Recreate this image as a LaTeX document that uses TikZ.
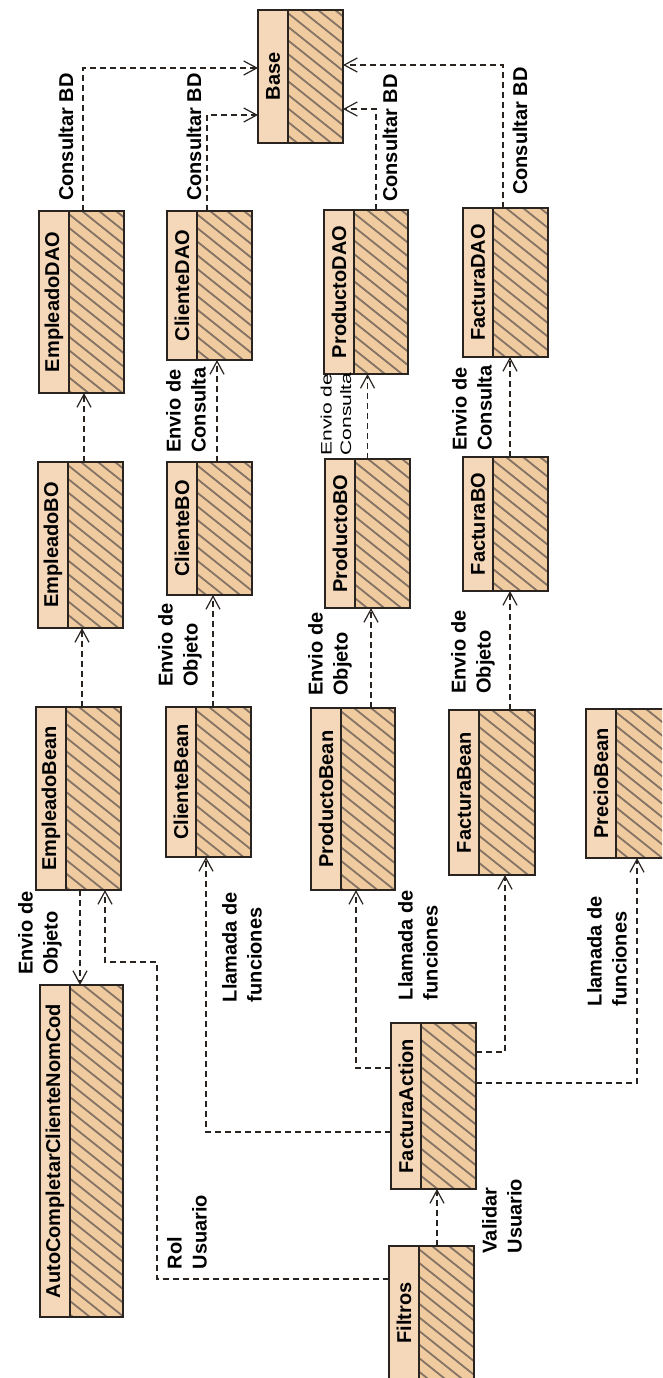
\documentclass[tikz,border=0pt]{standalone}
\usepackage{fontspec}
\setmainfont{Liberation Sans}
\usetikzlibrary{arrows.meta,calc}
\definecolor{boxfill}{HTML}{F0CBA0}
\definecolor{namefill}{HTML}{F5D8BA}
\definecolor{hatchcol}{HTML}{857466}
\definecolor{edgecol}{HTML}{2A2420}
\begin{document}
\begin{tikzpicture}[x=1pt,y=-1pt,
  cls/.style={draw=edgecol, line width=1.5pt, fill=boxfill, inner sep=0pt, outer sep=0pt, anchor=north west,
    path picture={
      \foreach \i in {-620,-603,...,100} {
        \draw[hatchcol, line width=1.8pt] ($(path picture bounding box.north west)+(\i,0)$) -- ++(600,480);
      }
      \fill[namefill] (path picture bounding box.north west) rectangle ([xshift=30pt]path picture bounding box.south west);
      \draw[edgecol, line width=1.4pt] ([xshift=30pt]path picture bounding box.north west) -- ([xshift=30pt]path picture bounding box.south west);
    }},
  nm/.style={rotate=90, inner sep=0pt, font=\bfseries\fontsize{20}{24}\selectfont},
  lbl/.style={rotate=90, inner sep=0pt, align=left, font=\bfseries\fontsize{20}{25}\selectfont},
  lblsmall/.style={rotate=90, yscale=0.72, inner sep=0pt, align=left, font=\fontsize{21}{27}\selectfont},
  dep/.style={draw=edgecol, line width=1.2pt, dash pattern=on 6pt off 4pt, -{Straight Barb[length=13pt,width=14pt,line width=1.2pt]}}
]
\useasboundingbox (0,0) rectangle (662,1378);
\fill[white] (0,0) rectangle (662,1378);
\clip (0,0) rectangle (662,1378);

% boxes
\node[cls, minimum width=85pt, minimum height=133pt] (base) at (258,10) {};
\node[cls, minimum width=85pt, minimum height=182pt] (edao) at (39,211) {};
\node[cls, minimum width=85pt, minimum height=149pt] (cdao) at (167,211) {};
\node[cls, minimum width=84pt, minimum height=164pt] (pdao) at (324,210) {};
\node[cls, minimum width=85pt, minimum height=149pt] (fdao) at (463,208) {};
\node[cls, minimum width=85pt, minimum height=166pt] (ebo) at (38,462) {};
\node[cls, minimum width=85pt, minimum height=133pt] (cbo) at (167,462) {};
\node[cls, minimum width=85pt, minimum height=149pt] (pbo) at (325,459) {};
\node[cls, minimum width=85pt, minimum height=134pt] (fbo) at (463,457) {};
\node[cls, minimum width=85pt, minimum height=183pt] (ebean) at (36,707) {};
\node[cls, minimum width=85pt, minimum height=150pt] (cbean) at (166,707) {};
\node[cls, minimum width=84pt, minimum height=182pt] (pbean) at (311,708) {};
\node[cls, minimum width=86pt, minimum height=165pt] (fbean) at (449,710) {};
\node[cls, minimum width=85pt, minimum height=149pt] (prbean) at (586,709) {};
\node[cls, minimum width=83pt, minimum height=332pt] (auto) at (40,985) {};
\node[cls, minimum width=85pt, minimum height=166pt] (fa) at (391,1023) {};
\node[cls, minimum width=85pt, minimum height=140pt] (fil) at (389,1246) {};

% names
\node[nm] (base-t) at ([xshift=15pt]base.west) {Base};
\node[nm] (edao-t) at ([xshift=15pt]edao.west) {EmpleadoDAO};
\node[nm] (cdao-t) at ([xshift=15pt]cdao.west) {ClienteDAO};
\node[nm] (pdao-t) at ([xshift=15pt]pdao.west) {ProductoDAO};
\node[nm] (fdao-t) at ([xshift=15pt]fdao.west) {FacturaDAO};
\node[nm] (ebo-t) at ([xshift=15pt]ebo.west) {EmpleadoBO};
\node[nm] (cbo-t) at ([xshift=15pt]cbo.west) {ClienteBO};
\node[nm] (pbo-t) at ([xshift=15pt]pbo.west) {ProductoBO};
\node[nm] (fbo-t) at ([xshift=15pt]fbo.west) {FacturaBO};
\node[nm] (ebean-t) at ([xshift=15pt]ebean.west) {EmpleadoBean};
\node[nm] (cbean-t) at ([xshift=15pt]cbean.west) {ClienteBean};
\node[nm] (pbean-t) at ([xshift=15pt]pbean.west) {ProductoBean};
\node[nm] (fbean-t) at ([xshift=15pt]fbean.west) {FacturaBean};
\node[nm] (prbean-t) at ([xshift=15pt]prbean.west) {PrecioBean};
\node[nm] (auto-t) at ([xshift=15pt]auto.west) {AutoCompletarClienteNomCod};
\node[nm] (fa-t) at ([xshift=15pt]fa.west) {FacturaAction};
\node[nm] (fil-t) at (404,1313) {Filtros};

% DAO -> Base
\draw[dep] ([xshift=1.5pt]edao.north) |- ([yshift=8.5pt]base.west);
\draw[dep] ([xshift=-2.5pt]cdao.north) |- ([yshift=-38.5pt]base.west);
\draw[dep] ([xshift=10pt]pdao.north) |- ([yshift=-32.5pt]base.east);
\draw[dep] ([xshift=-2.5pt]fdao.north) |- ([yshift=11.5pt]base.east);

% BO -> DAO
\draw[dep] ([xshift=3.5pt]ebo.north) -- ([xshift=3.5pt]ebo.north |- edao.south);
\draw[dep] ([xshift=7.5pt]cbo.north) -- ([xshift=7.5pt]cbo.north |- cdao.south);
\draw[dep] (pbo.north) -- (pbo.north |- pdao.south);
\draw[dep] ([xshift=4.5pt]fbo.north) -- ([xshift=4.5pt]fbo.north |- fdao.south);

% Bean -> BO
\draw[dep] ([xshift=3.5pt]ebean.north) -- ([xshift=3.5pt]ebean.north |- ebo.south);
\draw[dep] ([xshift=4.5pt]cbean.north) -- ([xshift=4.5pt]cbean.north |- cbo.south);
\draw[dep] ([xshift=18pt]pbean.north) -- ([xshift=18pt]pbean.north |- pbo.south);
\draw[dep] ([xshift=18pt]fbean.north) -- ([xshift=18pt]fbean.north |- fbo.south);

% EmpleadoBean -> AutoCompletar
\draw[dep] ([xshift=1.5pt]ebean.south) -- ([xshift=1.5pt]ebean.south |- auto.north);

% Filtros -> EmpleadoBean (Rol Usuario)
\coordinate (r1) at (157,962);
\coordinate (r0) at (389,1279);
\draw[dep] (r0) -| (r1) -| ([xshift=26.5pt]ebean.south);

% Filtros -> FacturaAction
\draw[dep] ([xshift=5.5pt]fil.north) -- ([xshift=5.5pt]fil.north |- fa.south);

% FacturaAction -> beans
\draw[dep] ([yshift=-26pt]fa.west) -| ([xshift=-2.5pt]cbean.south);
\draw[dep] ([yshift=38pt]fa.west) -| ([xshift=3pt]pbean.south);
\draw[dep] ([yshift=54pt]fa.east) -| ([xshift=13pt]fbean.south);
\draw[dep] ([yshift=23pt]fa.east) -| ([xshift=8.5pt]prbean.south);

% labels
\node[lbl] (l1) at (66,137) {Consultar BD};
\node[lbl] (l2) at (194,137) {Consultar BD};
\node[lbl] (l3) at (390,138) {Consultar BD};
\node[lbl] (l4) at (520,131) {Consultar BD};
\node[lbl] (l5) at (186,410) {Envio de\\Consulta};
\node[lblsmall] (l6) at (336,414) {Envio de\\Consulta};
\node[lbl] (l7) at (472,408) {Envio de\\Consulta};
\node[lbl] (l8) at (180,645) {Envio de\\Objeto};
\node[lbl] (l9) at (330,654) {Envio de\\Objeto};
\node[lbl] (l10) at (473,652) {Envio de\\Objeto};
\node[lbl] (l11) at (40,933) {Envio de\\Objeto};
\node[lbl] (l12) at (242,947) {Llamada de\\funciones};
\node[lbl] (l13) at (418,945) {Llamada de\\funciones};
\node[lbl] (l14) at (607,951) {Llamada de\\funciones};
\node[lbl] (l15) at (187,1232) {Rol\\Usuario};
\node[lbl] (l16) at (502,1216) {Validar\\Usuario};
\end{tikzpicture}
\end{document}
